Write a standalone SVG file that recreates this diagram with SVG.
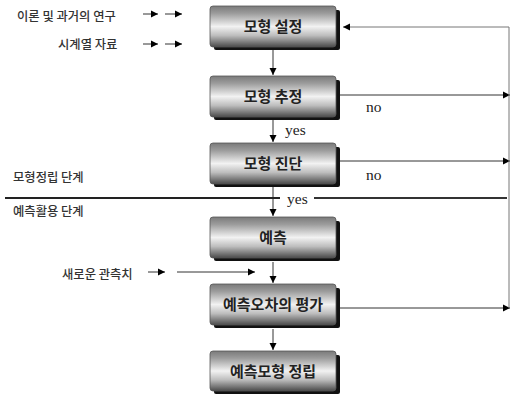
<svg xmlns="http://www.w3.org/2000/svg" width="511" height="396" viewBox="0 0 511 396">
<defs>
<linearGradient id="g" x1="0" y1="0" x2="0" y2="1">
<stop offset="0" stop-color="#7a7a7a"/>
<stop offset="0.18" stop-color="#9c9c9c"/>
<stop offset="0.5" stop-color="#f2f2f2"/>
<stop offset="0.72" stop-color="#bdbdbd"/>
<stop offset="1" stop-color="#4a4a4a"/>
</linearGradient>
<marker id="ah" markerWidth="8" markerHeight="8" refX="7" refY="4" orient="auto" markerUnits="userSpaceOnUse">
<path d="M0,0.5 L7,4 L0,7.5 Z" fill="#000"/>
</marker>
<style>
.shadow{fill:#111}
.box{fill:url(#g);stroke:#555;stroke-width:0.8}
.bt{font-family:"Noto Sans CJK KR","Noto Sans",sans-serif;font-weight:bold;font-size:15px;fill:#222;text-anchor:middle}
.lt{font-family:"Noto Sans CJK KR","Noto Sans",sans-serif;font-weight:500;font-size:12.3px;fill:#333}
.en{font-family:"Liberation Serif",serif;font-size:15.5px;fill:#222}
.c{stroke:#333;stroke-width:1;fill:none}
.cf{stroke:#777;stroke-width:1;fill:none}
</style>
</defs>
<rect width="511" height="396" fill="#fff"/>

<g id="connectors">
<line class="c" x1="273" y1="50" x2="273" y2="75" marker-end="url(#ah)"/>
<line class="c" x1="273" y1="120" x2="273" y2="142" marker-end="url(#ah)"/>
<line class="c" x1="273" y1="187" x2="273" y2="216" marker-end="url(#ah)"/>
<line class="c" x1="273" y1="262" x2="273" y2="283" marker-end="url(#ah)"/>
<line class="c" x1="273" y1="329" x2="273" y2="350" marker-end="url(#ah)"/>
<line class="c" x1="340" y1="95" x2="510" y2="95" marker-end="url(#ah)"/>
<line class="c" x1="340" y1="161" x2="510" y2="161" marker-end="url(#ah)"/>
<line class="c" x1="340" y1="308" x2="510" y2="308" marker-end="url(#ah)"/>
<polyline class="cf" points="509,308 509,27 343,27" marker-end="url(#ah)"/>
<line class="c" x1="143" y1="14" x2="158" y2="14" marker-end="url(#ah)"/>
<line class="c" x1="165" y1="14" x2="182" y2="14" marker-end="url(#ah)"/>
<line class="c" x1="143" y1="44" x2="158" y2="44" marker-end="url(#ah)"/>
<line class="c" x1="165" y1="44" x2="182" y2="44" marker-end="url(#ah)"/>
<line class="c" x1="148" y1="272" x2="165" y2="272" marker-end="url(#ah)"/>
<line class="c" x1="177" y1="272" x2="255" y2="272" marker-end="url(#ah)"/>
<text class="en" x="285" y="135">yes</text>
<text class="en" x="366" y="112">no</text>
<text class="en" x="366" y="180">no</text>
<text class="en" x="287" y="204">yes</text>
</g>

<g id="separator">
<line x1="5" y1="198" x2="280" y2="198" stroke="#222" stroke-width="2"/>
<line x1="314" y1="198" x2="507" y2="198" stroke="#333" stroke-width="2"/>
</g>

<g id="labels">
<text class="lt" x="17" y="21">이론 및 과거의 연구</text>
<text class="lt" x="58" y="49">시계열 자료</text>
<text class="lt" x="13" y="182">모형정립 단계</text>
<text class="lt" x="13" y="216">예측활용 단계</text>
<text class="lt" x="62" y="279">새로운 관측치</text>
</g>

<g id="n1">
<rect class="shadow" x="214" y="10" width="126" height="40" rx="2"/>
<rect class="box" x="210" y="6" width="126" height="41" rx="3"/>
<text class="bt" x="273" y="32">모형 설정</text>
</g>
<g id="n2">
<rect class="shadow" x="214" y="80" width="126" height="40" rx="2"/>
<rect class="box" x="210" y="76" width="126" height="41" rx="3"/>
<text class="bt" x="273" y="102">모형 추정</text>
</g>
<g id="n3">
<rect class="shadow" x="214" y="147" width="126" height="40" rx="2"/>
<rect class="box" x="210" y="143" width="126" height="41" rx="3"/>
<text class="bt" x="273" y="169">모형 진단</text>
</g>
<g id="n4">
<rect class="shadow" x="214" y="221" width="126" height="40" rx="2"/>
<rect class="box" x="210" y="217" width="126" height="41" rx="3"/>
<text class="bt" x="273" y="243">예측</text>
</g>
<g id="n5">
<rect class="shadow" x="214" y="288" width="126" height="40" rx="2"/>
<rect class="box" x="210" y="284" width="126" height="41" rx="3"/>
<text class="bt" x="273" y="310">예측오차의 평가</text>
</g>
<g id="n6">
<rect class="shadow" x="214" y="355" width="126" height="39" rx="2"/>
<rect class="box" x="210" y="351" width="126" height="40" rx="3"/>
<text class="bt" x="273" y="377">예측모형 정립</text>
</g>
</svg>
